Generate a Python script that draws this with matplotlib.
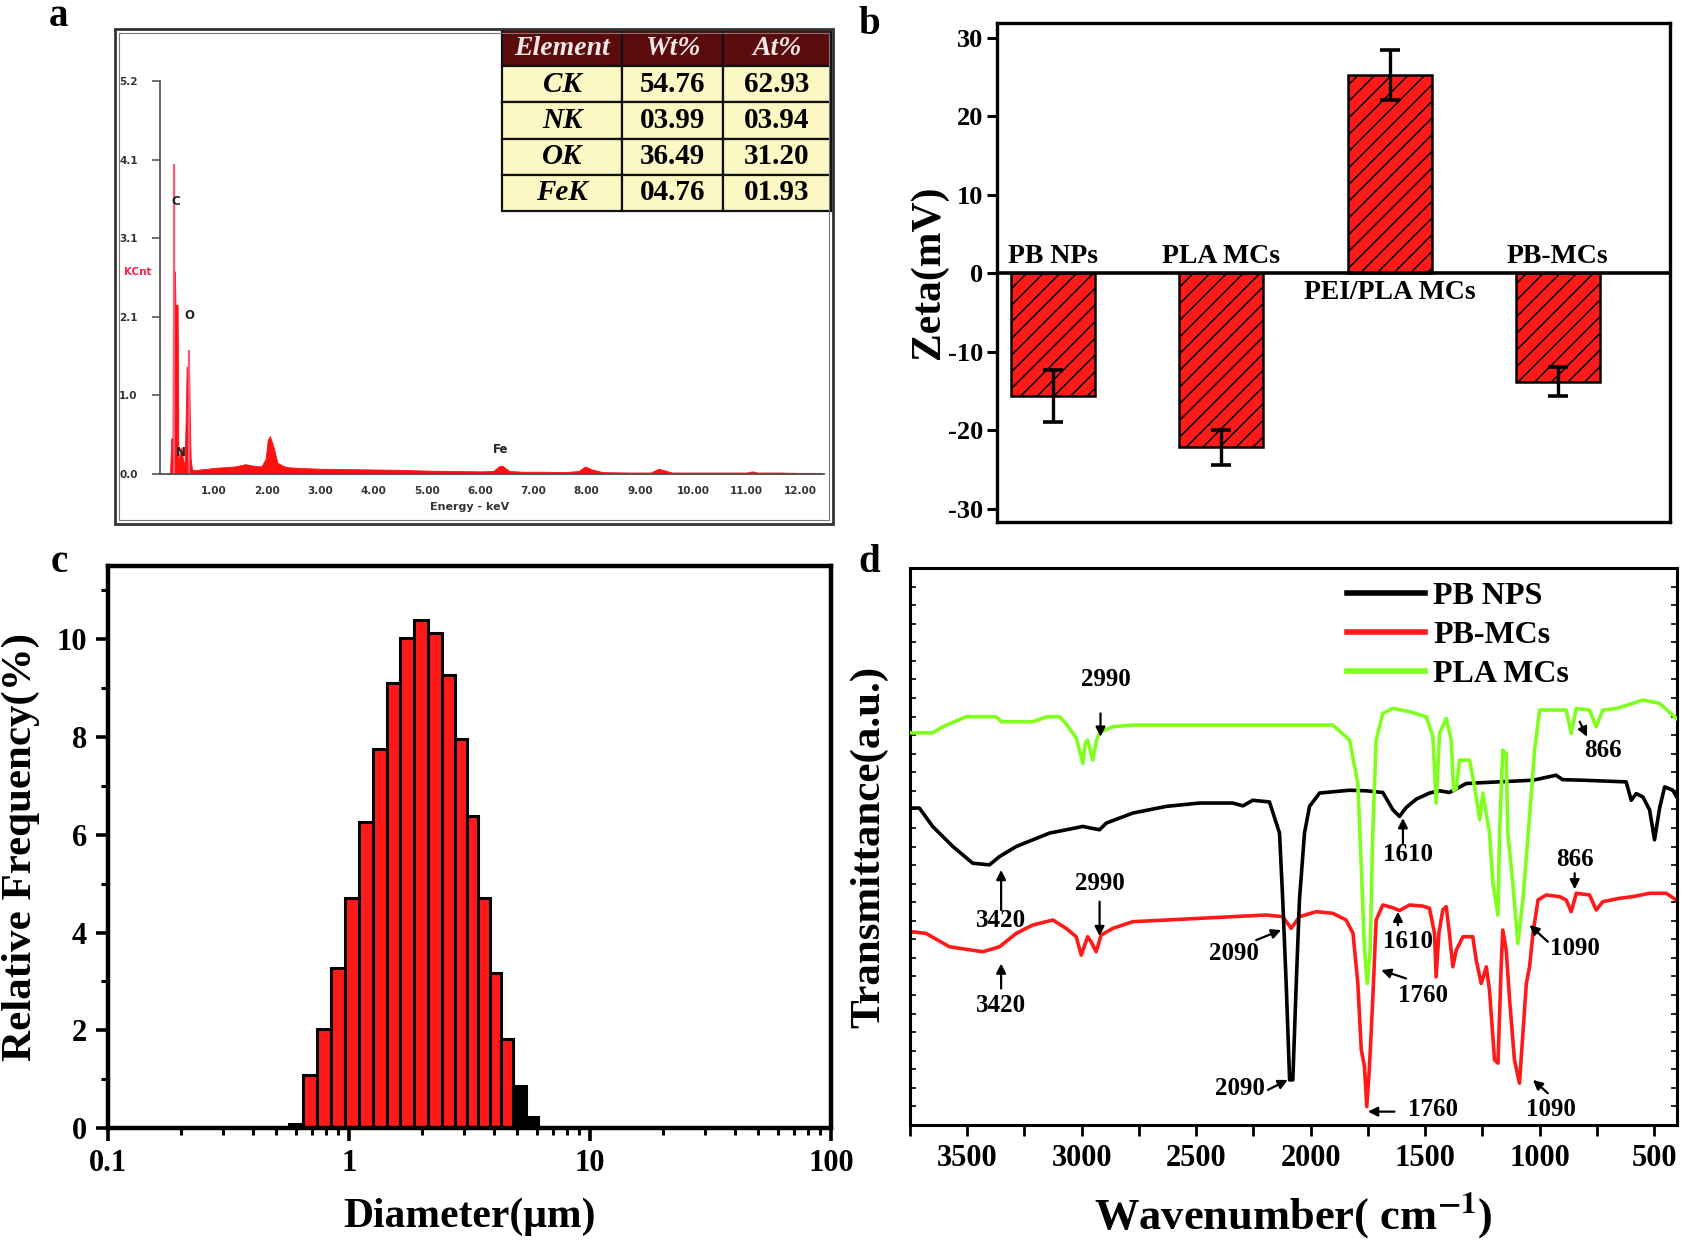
import numpy as np
import matplotlib
matplotlib.use("Agg")
import matplotlib.pyplot as plt
from matplotlib.ticker import FixedLocator, NullFormatter

# ------------------------------------------------------------------ data
# (a) EDS spectrum
eds_energy = [0.15, 0.19, 0.21, 0.235, 0.245, 0.26, 0.28, 0.29, 0.33, 0.345, 0.37, 0.40, 0.43,
              0.46, 0.48, 0.50, 0.545, 0.56, 0.575, 0.60, 0.65, 0.75, 0.9, 1.0, 1.2, 1.4, 1.6,
              1.75, 1.9, 1.98, 2.02, 2.06, 2.1, 2.15, 2.2, 2.3, 2.4, 2.6, 3.0, 3.5, 4.0, 4.5,
              5.0, 5.5, 6.0, 6.25, 6.35, 6.42, 6.55, 6.8, 7.2, 7.6, 7.85, 7.97, 8.1, 8.3, 8.8,
              9.2, 9.35, 9.45, 9.6, 10.0, 10.5, 11.0, 11.1, 11.2, 11.6, 12.0, 12.4]
eds_counts = [0.0, 0.02, 0.47, 0.47, 2.68, 2.68, 2.68, 2.24, 2.24, 0.15, 0.25, 0.35, 0.2,
              0.1, 0.67, 1.42, 1.42, 0.7, 0.2, 0.06, 0.05, 0.06, 0.07, 0.08, 0.09, 0.1, 0.13,
              0.11, 0.1, 0.2, 0.45, 0.5, 0.42, 0.3, 0.15, 0.11, 0.09, 0.08, 0.07, 0.065, 0.06, 0.055,
              0.045, 0.04, 0.035, 0.04, 0.1, 0.11, 0.04, 0.03, 0.03, 0.025, 0.04, 0.1, 0.06, 0.025, 0.02,
              0.02, 0.07, 0.05, 0.02, 0.02, 0.02, 0.02, 0.035, 0.02, 0.02, 0.015, 0.015]
eds_tip_energy = [0.27, 0.55]
eds_tip_counts = [4.1, 1.64]
eds_ytick_vals = [0.0, 1.04, 2.08, 3.12, 4.16, 5.2]
eds_ytick_labels = ["0.0", "1.0", "2.1", "3.1", "4.1", "5.2"]
eds_xtick_vals = [1, 2, 3, 4, 5, 6, 7, 8, 9, 10, 11, 12]
eds_xtick_labels = ["1.00", "2.00", "3.00", "4.00", "5.00", "6.00", "7.00", "8.00", "9.00",
                    "10.00", "11.00", "12.00"]
eds_peak_names = ["C", "O", "N", "Fe"]
eds_peak_e = [0.29, 0.55, 0.40, 6.38]
eds_peak_y = [3.61, 2.10, 0.28, 0.33]

table_header = ["Element", "Wt%", "At%"]
table_elements = ["CK", "NK", "OK", "FeK"]
table_wt = ["54.76", "03.99", "36.49", "04.76"]
table_at = ["62.93", "03.94", "31.20", "01.93"]

# (b) zeta potential
zeta_samples = ["PB NPs", "PLA MCs", "PEI/PLA MCs", "PB-MCs"]
zeta_values = [-15.6, -22.2, 25.3, -13.8]
zeta_errors = [3.3, 2.2, 3.2, 1.8]
zeta_yticks = [-30, -20, -10, 0, 10, 20, 30]

# (c) size distribution
size_diameter = [0.601, 0.689, 0.789, 0.903, 1.031, 1.180, 1.349, 1.532, 1.741, 1.993,
                 2.285, 2.596, 2.911, 3.254, 3.639, 4.055, 4.533, 5.099, 5.744]
size_freq = [0.08, 1.09, 2.02, 3.27, 4.71, 6.26, 7.76, 9.11, 10.03, 10.40,
             10.13, 9.27, 7.97, 6.39, 4.71, 3.17, 1.82, 0.86, 0.23]
size_xticks = [0.1, 1, 10, 100]
size_xticklabels = ["0.1", "1", "10", "100"]
size_yticks = [0, 2, 4, 6, 8, 10]

# (d) FTIR
pb_nps_wn = [3746, 3709, 3651, 3563, 3476, 3403, 3359, 3286, 3141, 2995, 2960, 2922, 2893, 2777,
             2631, 2486, 2340, 2296, 2253, 2180, 2136, 2122, 2107, 2092, 2078, 2063, 2049, 2027,
             2005, 1961, 1830, 1757, 1685, 1641, 1612, 1583, 1539, 1481, 1437, 1394, 1321, 1233,
             1029, 928, 900, 811, 622, 600, 578, 549, 520, 498, 476, 454, 418, 403]
pb_nps_t = [56.9, 56.9, 53.6, 50.0, 47.0, 46.7, 48.2, 50.0, 52.4, 53.6, 53.3, 53.0, 54.2, 56.0,
            57.2, 57.8, 57.8, 57.3, 58.3, 58.0, 52.4, 40.4, 25.4, 8.1, 8.1, 25.4, 40.4, 52.4,
            57.2, 59.6, 60.1, 60.0, 59.7, 56.6, 55.4, 57.0, 58.5, 59.6, 60.0, 59.7, 61.3, 61.5,
            61.9, 62.8, 62.0, 61.9, 61.6, 58.3, 59.5, 58.9, 56.6, 51.2, 56.9, 60.7, 60.1, 59.0]

pla_wn = [3746, 3651, 3607, 3505, 3374, 3350, 3214, 3150, 3097, 3068, 3024, 2995, 2985, 2974,
          2952, 2937, 2922, 2864, 2777, 2049, 1903, 1830, 1794, 1779, 1765, 1753, 1740, 1729,
          1714, 1685, 1641, 1568, 1495, 1466, 1452, 1437, 1408, 1386, 1376, 1364, 1350, 1306,
          1284, 1262, 1248, 1219, 1204, 1182, 1175, 1161, 1146, 1139, 1117, 1095, 1073, 1044,
          1022, 1000, 942, 884, 862, 840, 782, 753, 724, 665, 593, 549, 476, 403]
pla_t = [70.4, 70.4, 71.5, 73.3, 73.3, 72.4, 72.4, 73.3, 73.3, 72.0, 69.5, 64.9, 68.5, 69.1,
         65.5, 68.8, 70.5, 71.5, 71.8, 71.8, 71.8, 69.1, 61.3, 46.4, 31.4, 25.4, 31.4, 52.4,
         69.1, 73.9, 74.8, 74.2, 73.3, 69.7, 57.8, 70.3, 73.0, 69.1, 60.1, 60.4, 65.5, 65.5,
         60.7, 54.8, 59.6, 52.4, 43.4, 37.7, 52.4, 67.3, 66.7, 52.4, 43.4, 32.6, 40.4, 55.4,
         67.3, 74.5, 74.5, 74.5, 70.3, 74.8, 74.5, 71.5, 74.5, 74.8, 75.7, 76.3, 75.7, 73.0]

pb_mcs_wn = [3746, 3680, 3578, 3432, 3359, 3286, 3214, 3126, 3068, 3024, 3002, 2974, 2959, 2937,
             2915, 2864, 2777, 2486, 2194, 2122, 2085, 2049, 1976, 1903, 1845, 1815, 1794, 1779,
             1765, 1755, 1743, 1729, 1714, 1685, 1641, 1612, 1568, 1510, 1481, 1459, 1452, 1440,
             1423, 1408, 1394, 1379, 1364, 1335, 1292, 1277, 1255, 1233, 1219, 1197, 1182, 1168,
             1161, 1146, 1131, 1110, 1088, 1073, 1058, 1044, 1029, 1007, 971, 913, 884, 862, 840,
             782, 753, 724, 651, 593, 520, 447, 403]
pb_mcs_t = [34.7, 34.4, 32.0, 31.1, 32.0, 34.4, 35.9, 36.8, 35.3, 33.8, 30.5, 33.8, 32.9, 31.1,
            34.1, 35.3, 36.5, 37.1, 37.7, 37.4, 35.3, 37.4, 38.3, 38.0, 36.8, 34.4, 25.4, 13.5,
            10.5, 3.3, 10.5, 22.4, 36.8, 39.5, 39.0, 38.5, 39.5, 39.3, 38.9, 34.4, 26.6, 34.4,
            38.6, 39.2, 34.4, 28.4, 31.4, 33.8, 33.8, 29.6, 25.4, 28.4, 24.2, 11.7, 11.1, 28.4,
            35.0, 31.4, 22.4, 11.7, 7.5, 16.5, 25.4, 28.4, 34.4, 40.4, 41.3, 41.0, 40.4, 38.3, 41.6,
            41.3, 38.6, 40.1, 40.7, 41.0, 41.6, 41.6, 40.4]

ftir_xticks = [3500, 3000, 2500, 2000, 1500, 1000, 500]
ftir_minor = [3750, 3250, 2750, 2250, 1750, 1250, 750]

# annotations: label, text (wn, T), arrow tail (wn, T), arrow head (wn, T)
ftir_labels = ["2990", "3420", "2990", "3420", "2090", "2090", "866", "1610", "866", "1610",
               "1090", "1760", "1760", "1090"]
ftir_text_pos = [(2893, 79.9), (3352, 36.8), (2922, 43.4), (3352, 21.5), (2333, 30.8),
                 (2311, 6.6), (724, 67.3), (1576, 48.5), (847, 47.6), (1576, 32.9),
                 (847, 31.7), (1510, 23.3), (1466, 2.7), (949, 2.7)]
ftir_arrow_tail = [(2918, 73.9), (3352, 38.6), (2922, 40.1), (3352, 24.5), (2238, 33.2),
                   (2187, 6.3), (825, 72.4), (1597, 50.6), (847, 45.2), (1619, 35.9),
                   (964, 32.9), (1583, 26.3), (1634, 2.4), (964, 5.7)]
ftir_arrow_head = [(2918, 69.7), (3352, 45.8), (2922, 33.9), (3352, 29.0), (2129, 35.0),
                   (2100, 8.1), (793, 69.7), (1597, 55.1), (847, 42.3), (1619, 38.3),
                   (1044, 35.9), (1692, 27.8), (1750, 2.4), (1029, 8.1)]

# ------------------------------------------------------------------ style
W, H = 1686, 1246
plt.rcParams['font.family'] = ['Liberation Serif', 'DejaVu Serif']
plt.rcParams['mathtext.fontset'] = 'stix'
plt.rcParams['hatch.linewidth'] = 1.1

fig = plt.figure(figsize=(W / 100, H / 100), dpi=100)


def rect(x0, y0, x1, y1):
    return [x0 / W, 1 - y1 / H, (x1 - x0) / W, (y1 - y0) / H]


SERIF_B = dict(family='Liberation Serif', weight='bold')
RED = '#ff1a1a'

# ------------------------------------------------------------------ (a)
frame = plt.Rectangle((115 / W, 1 - 524 / H), 718 / W, 495 / H, transform=fig.transFigure,
                      fill=False, lw=2.0, ec='#333333')
fig.add_artist(frame)
frame2 = plt.Rectangle((119 / W, 1 - 520 / H), 710 / W, 487 / H, transform=fig.transFigure,
                       fill=False, lw=0.8, ec='#777777')
fig.add_artist(frame2)

axa = fig.add_axes(rect(160, 81, 824, 474))
axa.fill_between(eds_energy, eds_counts, 0, color='#ff1010', lw=0.6)
axa.vlines(eds_tip_energy, 0, eds_tip_counts, color='#ff5a78', lw=1.6)
axa.set_xlim(0, 12.45)
axa.set_ylim(0, 5.2)
for s in ['top', 'right']:
    axa.spines[s].set_visible(False)
for s in ['left', 'bottom']:
    axa.spines[s].set_color('#555555')
    axa.spines[s].set_linewidth(1.3)
axa.set_xticks(eds_xtick_vals)
axa.set_xticklabels(eds_xtick_labels, family='DejaVu Sans', weight='bold', size=7.5,
                    color='#333333')
axa.set_yticks(eds_ytick_vals)
axa.set_yticklabels(eds_ytick_labels, family='DejaVu Sans', weight='bold', size=7.5,
                    color='#333333')
axa.tick_params(axis='x', length=0, pad=9)
axa.tick_params(axis='y', length=6, width=1.2, color='#555555', pad=10)
axa.patch.set_alpha(0)
for name, e, y in zip(eds_peak_names, eds_peak_e, eds_peak_y):
    axa.text(e, y, name, family='DejaVu Sans', weight='bold', size=8.5, ha='center',
             va='center', color='#222222')
axa.text(-0.42, 2.67, "KCnt", family='DejaVu Sans', weight='bold', size=7.5, ha='center',
         va='center', color='#ff2050', clip_on=False)
axa.text(5.8, -0.44, "Energy - keV", family='DejaVu Sans', weight='bold', size=8,
         ha='center', va='center', color='#333333', clip_on=False)

cells = [[e, w, a] for e, w, a in zip(table_elements, table_wt, table_at)]
tab = axa.table(cellText=cells, colLabels=table_header,
                colWidths=[120, 101, 108],
                bbox=[(502 - 160) / 664, (474 - 211) / 393, 329 / 664, 181 / 393])
tab.auto_set_font_size(False)
for (r, c), cell in tab.get_celld().items():
    cell.set_linewidth(1.6)
    cell.set_edgecolor('#111111')
    txt = cell.get_text()
    txt.set_family('Liberation Serif')
    txt.set_weight('bold')
    if r == 0:
        cell.set_facecolor('#5a0c0c')
        txt.set_color('#f3e6e6')
        txt.set_style('italic')
        txt.set_fontsize(20)
    else:
        cell.set_facecolor('#fbf8c4')
        txt.set_color('black')
        txt.set_fontsize(21)
        if c == 0:
            txt.set_style('italic')
    txt.set_ha('center')
    cell._loc = 'center'

# ------------------------------------------------------------------ (b)
axb = fig.add_axes(rect(997, 23, 1670, 522))
xpos = np.arange(len(zeta_samples))
axb.bar(xpos, zeta_values, width=0.5, color=RED, edgecolor='black', lw=1.8, hatch='//',
        zorder=2)
axb.errorbar(xpos, zeta_values, yerr=zeta_errors, fmt='none', ecolor='black', elinewidth=2.4,
             capsize=7, capthick=2.6, zorder=3)
axb.axhline(0, color='black', lw=2.6, zorder=4)
axb.set_xlim(-1 / 3, 3 + 2 / 3)
axb.set_ylim(-31.7, 31.9)
axb.set_xticks([])
axb.set_yticks(zeta_yticks)
axb.set_yticklabels([str(v) for v in zeta_yticks], **SERIF_B, size=19)
axb.tick_params(axis='y', direction='out', length=7, width=2.2, pad=3)
for s in axb.spines.values():
    s.set_linewidth(2.4)
axb.set_ylabel("Zeta(mV)", **SERIF_B, size=30, labelpad=0)
for i, (name, v) in enumerate(zip(zeta_samples, zeta_values)):
    if v < 0:
        axb.text(i, 0.5, name, **SERIF_B, size=20, ha='center', va='bottom', zorder=5)
    else:
        axb.text(i, -0.9, name, **SERIF_B, size=20, ha='center', va='top', zorder=5)

# ------------------------------------------------------------------ (c)
axc = fig.add_axes(rect(108, 566, 831, 1128))
logd = np.log10(size_diameter)
mids = (logd[:-1] + logd[1:]) / 2
edges = np.concatenate([[logd[0] - (mids[0] - logd[0])], mids,
                        [logd[-1] + (logd[-1] - mids[-1])]])
lefts = 10 ** edges[:-1]
widths = 10 ** edges[1:] - lefts
bar_colors = [RED if f >= 1 else 'black' for f in size_freq]
axc.bar(lefts, size_freq, width=widths, align='edge', color=bar_colors, edgecolor='black',
        lw=2.2, zorder=2)
axc.set_xscale('log')
axc.set_xlim(0.1, 100)
axc.set_ylim(0, 11.5)
axc.xaxis.set_major_locator(FixedLocator(size_xticks))
axc.set_xticklabels(size_xticklabels, **SERIF_B, size=22)
minor_c = [m * 10.0 ** k for k in (-1, 0, 1) for m in range(2, 10)]
axc.xaxis.set_minor_locator(FixedLocator(minor_c))
axc.xaxis.set_minor_formatter(NullFormatter())
axc.set_yticks(size_yticks)
axc.set_yticklabels([str(v) for v in size_yticks], **SERIF_B, size=22)
axc.yaxis.set_minor_locator(FixedLocator([1, 3, 5, 7, 9, 11]))
axc.tick_params(which='major', direction='out', length=9, width=2.6, pad=6)
axc.tick_params(which='minor', direction='out', length=5, width=2.2)
for s in axc.spines.values():
    s.set_linewidth(3.2)
axc.set_xlabel("Diameter(μm)", **SERIF_B, size=30, labelpad=14)
axc.set_ylabel("Relative Frequency(%)", **SERIF_B, size=31, labelpad=12)

# ------------------------------------------------------------------ (d)
axd = fig.add_axes(rect(910, 568, 1677, 1125))
axd.plot(pb_nps_wn, pb_nps_t, color='black', lw=2.6, label='PB NPS', zorder=3)
axd.plot(pb_mcs_wn, pb_mcs_t, color='#ff1a1a', lw=2.6, label='PB-MCs', zorder=2)
axd.plot(pla_wn, pla_t, color='#80ff1f', lw=2.6, label='PLA MCs', zorder=4)
axd.set_xlim(3750, 400)
axd.set_ylim(0, 100)
axd.set_xticks(ftir_xticks)
axd.set_xticklabels([str(v) for v in ftir_xticks], **SERIF_B, size=22)
axd.xaxis.set_minor_locator(FixedLocator(ftir_minor))
axd.set_yticks(np.linspace(0, 100, 31))
axd.set_yticklabels([])
axd.tick_params(axis='x', which='both', direction='out', length=8, width=2.0, pad=6)
axd.tick_params(axis='y', direction='in', length=4, width=1.2, right=True)
for s in axd.spines.values():
    s.set_linewidth(2.2)
axd.set_xlabel(r"Wavenumber( cm$^{\mathbf{-1}}$)", **SERIF_B, size=32, labelpad=12)
axd.set_ylabel("Transmittance(a.u.)", **SERIF_B, size=31, labelpad=12)
leg = axd.legend(loc='upper left', bbox_to_anchor=(0.57, 0.975), frameon=False,
                 handlelength=2.45, handletextpad=0.25, labelspacing=0.3, borderpad=0,
                 borderaxespad=0, prop=dict(family='Liberation Serif', weight='bold', size=23))
for line in leg.get_lines():
    line.set_linewidth(4.0)
for lab, tp, tail, head in zip(ftir_labels, ftir_text_pos, ftir_arrow_tail, ftir_arrow_head):
    axd.text(tp[0], tp[1], lab, **SERIF_B, size=18, ha='center', va='center', zorder=6)
    axd.annotate('', xy=head, xytext=tail,
                 arrowprops=dict(arrowstyle='-|>', color='black', lw=1.6,
                                 mutation_scale=14, shrinkA=0, shrinkB=0), zorder=6)

# ------------------------------------------------------------------ panel letters
for letter, (x, y) in zip("abcd", [(59, 16), (869, 24), (59, 562), (869, 562)]):
    fig.text(x / W, 1 - y / H, letter, **SERIF_B, size=28, ha='center', va='center')

fig.savefig("out.png", dpi=100)
